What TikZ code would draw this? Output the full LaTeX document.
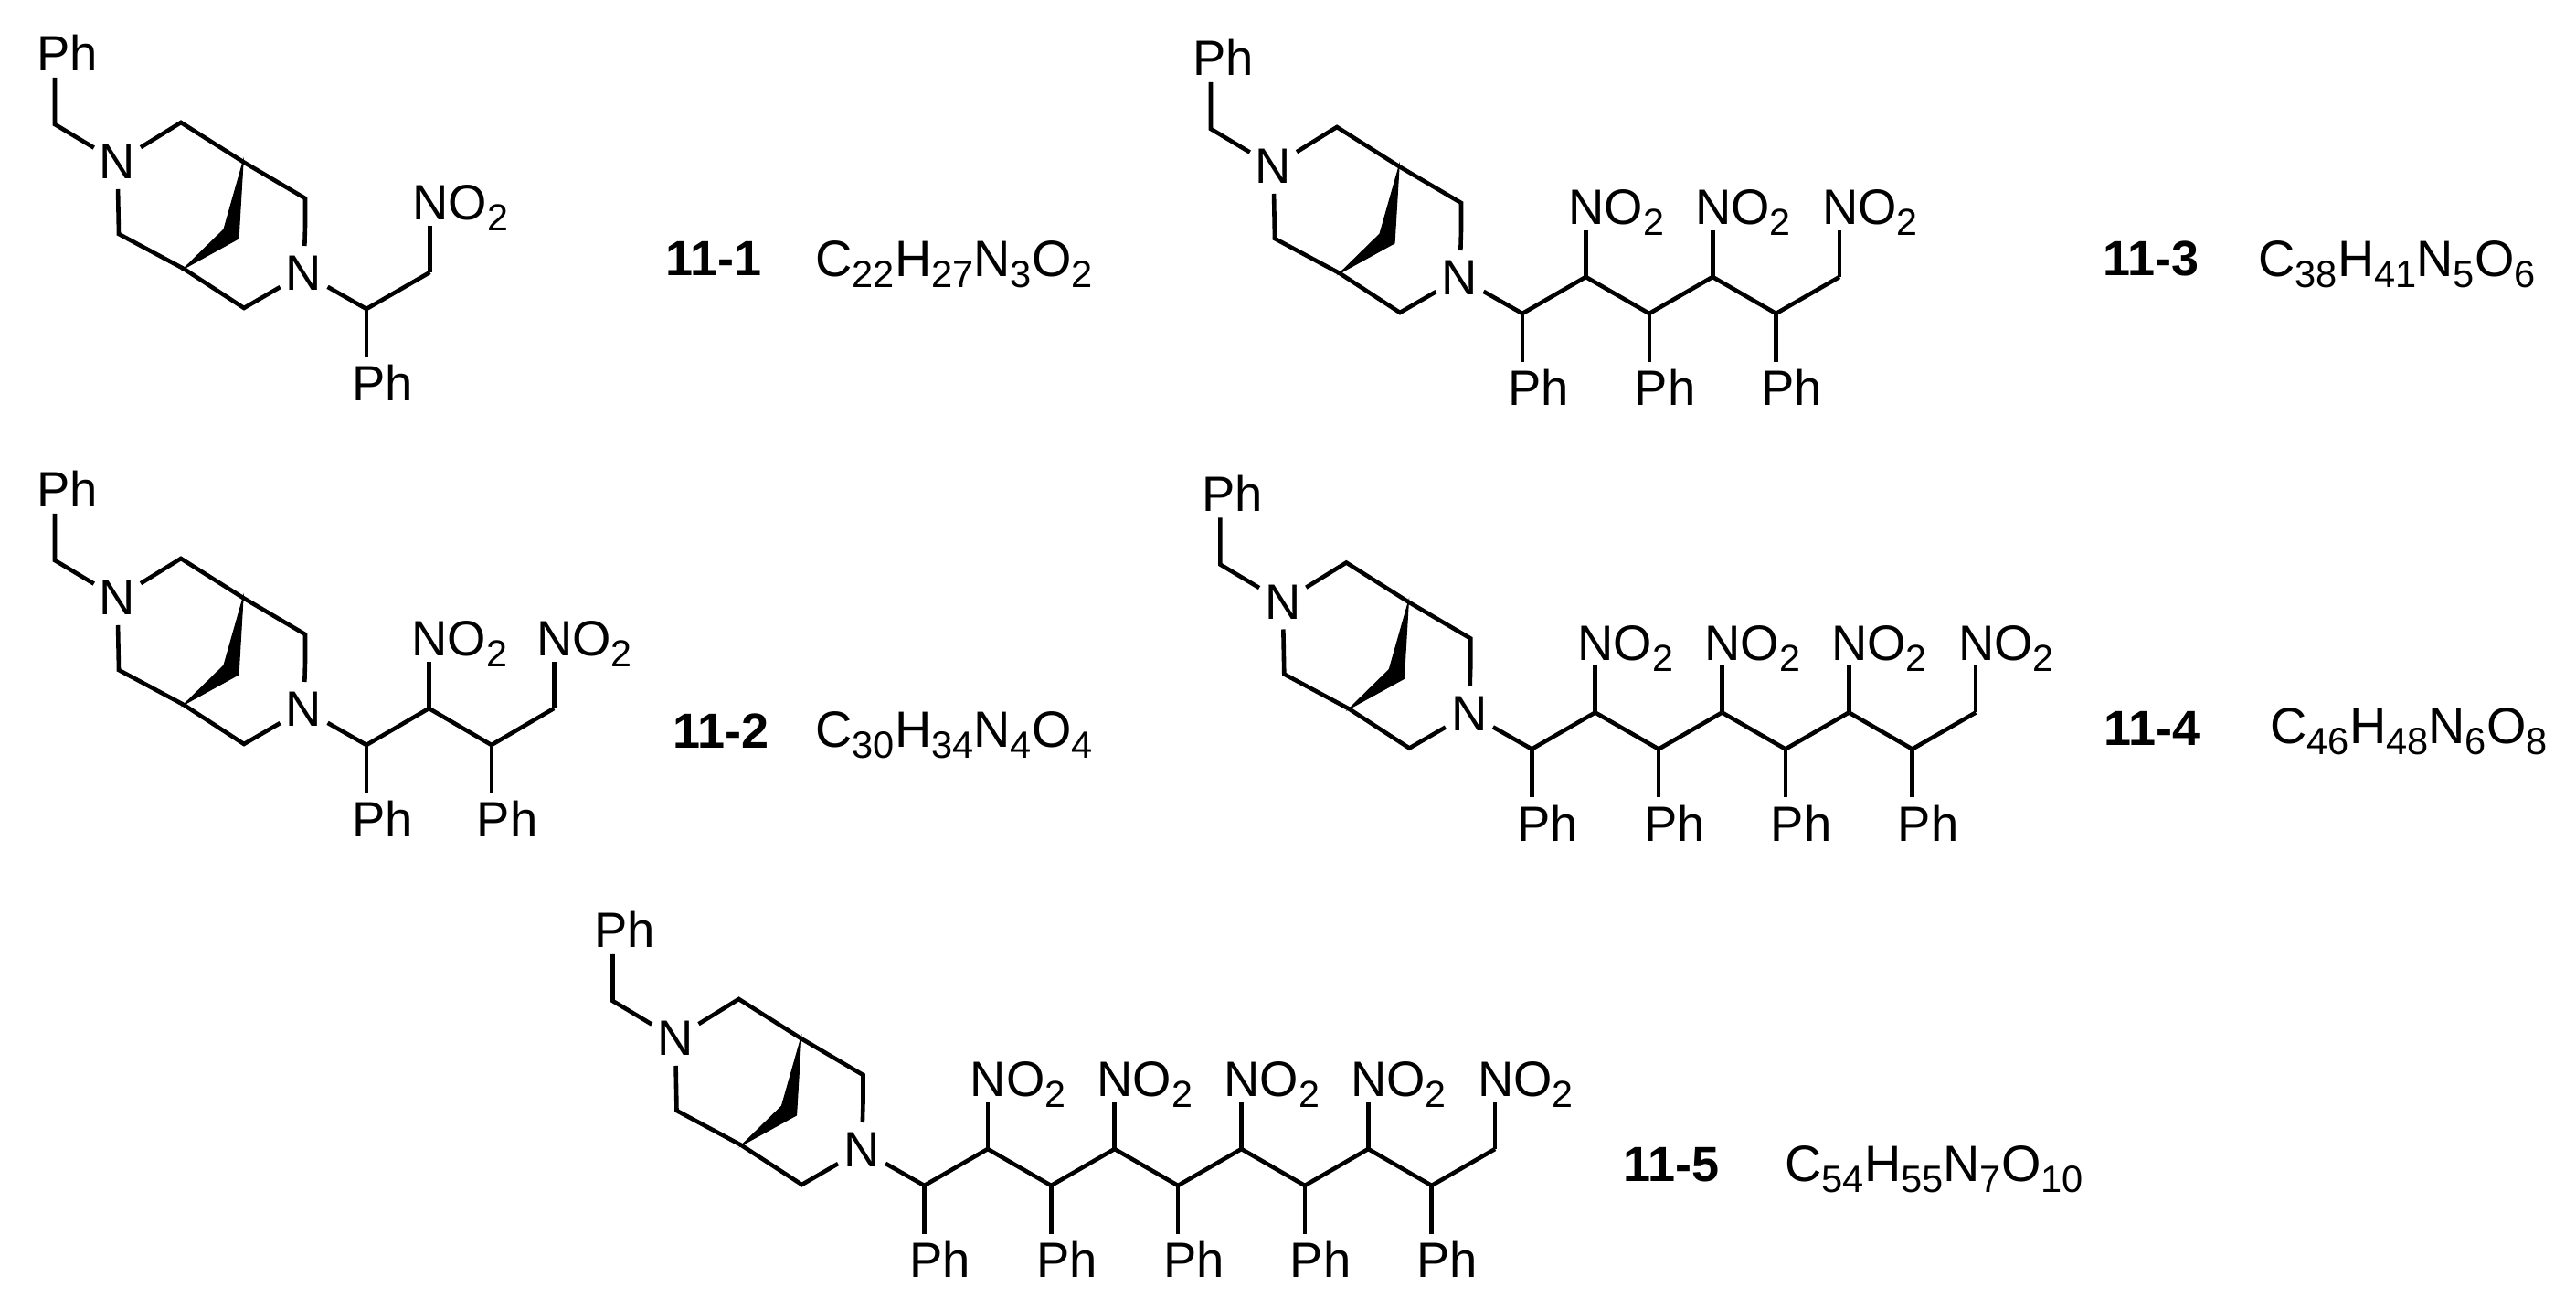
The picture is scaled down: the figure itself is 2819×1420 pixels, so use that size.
\documentclass[tikz,border=0pt]{standalone}
\usepackage{fontspec}
\setmainfont{Liberation Sans}
\newcommand\chemsub[1]{\raisebox{-3pt}{\fontsize{10.3pt}{11pt}\selectfont #1}}
\newcommand\fmlsub[1]{\raisebox{-2.85pt}{\fontsize{10.4pt}{11pt}\selectfont #1}}
\tikzset{
  bond/.style={line width=1.15pt,line join=miter,line cap=butt},
  wedgebond/.style={fill=black,draw=black,line width=0.3pt},
  atomN/.style={circle,inner sep=0pt,outer sep=0pt,minimum size=15pt,font=\fontsize{13.6pt}{15pt}\selectfont},
  atomlabel/.style={anchor=base west,inner sep=0pt,outer sep=0pt,font=\fontsize{13.6pt}{15pt}\selectfont},
  idlabel/.style={anchor=base west,inner sep=0pt,outer sep=0pt,font=\fontsize{13.5pt}{15pt}\selectfont\bfseries},
  formula/.style={anchor=base west,inner sep=0pt,outer sep=0pt,font=\fontsize{13.95pt}{15pt}\selectfont},
}
% #1 name, #2 x offset, #3 y offset, #4 number of repeat units, #5 half step
\newcommand\molecule[5]{%
\begin{scope}[shift={(#2,#3)}]
  \node[atomN] (#1n1) at (128.5,178) {N};
  \node[atomN] (#1n2) at (332.5,300) {N};
  \node[atomlabel] (#1ph0) at (40,79) {Ph};
  \coordinate (#1phe) at (60,86);
  \coordinate (#1ch) at (60,137);
  \coordinate (#1a) at (198,135);
  \coordinate (#1b) at (266,178);
  \coordinate (#1c) at (334,218);
  \coordinate (#1d) at (334,248);
  \coordinate (#1e) at (130,257);
  \coordinate (#1f) at (201,295);
  \coordinate (#1g) at (267,338);
  \coordinate (#1w1) at (245,252);
  \coordinate (#1w2) at (261,262);
  \filldraw[wedgebond] (#1b) -- (#1w1) -- (#1f) -- (#1w2) -- cycle;
  \draw[bond] (#1phe) -- (#1ch) -- (#1n1);
  \draw[bond] (#1n1) -- (#1a) -- (#1b) -- (#1c) -- (#1d) -- (#1n2);
  \draw[bond] (#1n1) -- (#1e) -- (#1f) -- (#1g) -- (#1n2);
  \foreach \k in {1,...,#4}{
    \pgfmathsetmacro\cx{401+(\k-1)*2*#5}
    \pgfmathsetmacro\ux{\cx+#5}
    \pgfmathtruncatemacro\pk{\k-1}
    \coordinate (#1c\k) at (\cx,339);
    \coordinate (#1u\k) at (\ux,299);
    \coordinate (#1pe\k) at (\cx,392);
    \coordinate (#1ne\k) at (\ux,248);
    \node[atomlabel] (#1ph\k) at ({\cx-16},440) {Ph};
    \node[atomlabel] (#1no\k) at ({\ux-19},242) {NO\chemsub{2}};
    \ifnum\k=1
      \draw[bond] (#1n2) -- (#1c\k);
    \else
      \draw[bond] (#1u\pk) -- (#1c\k);
    \fi
    \draw[bond] (#1c\k) -- (#1u\k);
    \draw[bond] (#1c\k) -- (#1pe\k);
    \draw[bond] (#1u\k) -- (#1ne\k);
  }
\end{scope}}
\begin{document}
\begin{tikzpicture}[x=0.25pt,y=-0.25pt]
  \useasboundingbox (0,0) rectangle (2819,1420);
  \fill[white] (0,0) rectangle (2819,1420);
  \molecule{ma}{0}{-1}{1}{69.4}
  \molecule{mb}{0}{476}{2}{68.4}
  \molecule{mc}{1265}{4}{3}{69.4}
  \molecule{md}{1275.3}{480.5}{4}{69.4}
  \molecule{me}{610.5}{958}{5}{69.4}
  \node[idlabel] (la) at (728,302) {11-1};
  \node[formula] (fa) at (892.5,303) {C\fmlsub{22}H\fmlsub{27}N\fmlsub{3}O\fmlsub{2}};
  \node[idlabel] (lb) at (736,819) {11-2};
  \node[formula] (fb) at (892.5,818) {C\fmlsub{30}H\fmlsub{34}N\fmlsub{4}O\fmlsub{4}};
  \node[idlabel] (lc) at (2301,302) {11-3};
  \node[formula] (fc) at (2471.5,303) {C\fmlsub{38}H\fmlsub{41}N\fmlsub{5}O\fmlsub{6}};
  \node[idlabel] (ld) at (2302.5,816) {11-4};
  \node[formula] (fd) at (2484.5,814) {C\fmlsub{46}H\fmlsub{48}N\fmlsub{6}O\fmlsub{8}};
  \node[idlabel] (le) at (1776,1293) {11-5};
  \node[formula] (fe) at (1953.5,1293) {C\fmlsub{54}H\fmlsub{55}N\fmlsub{7}O\fmlsub{10}};
\end{tikzpicture}
\end{document}
